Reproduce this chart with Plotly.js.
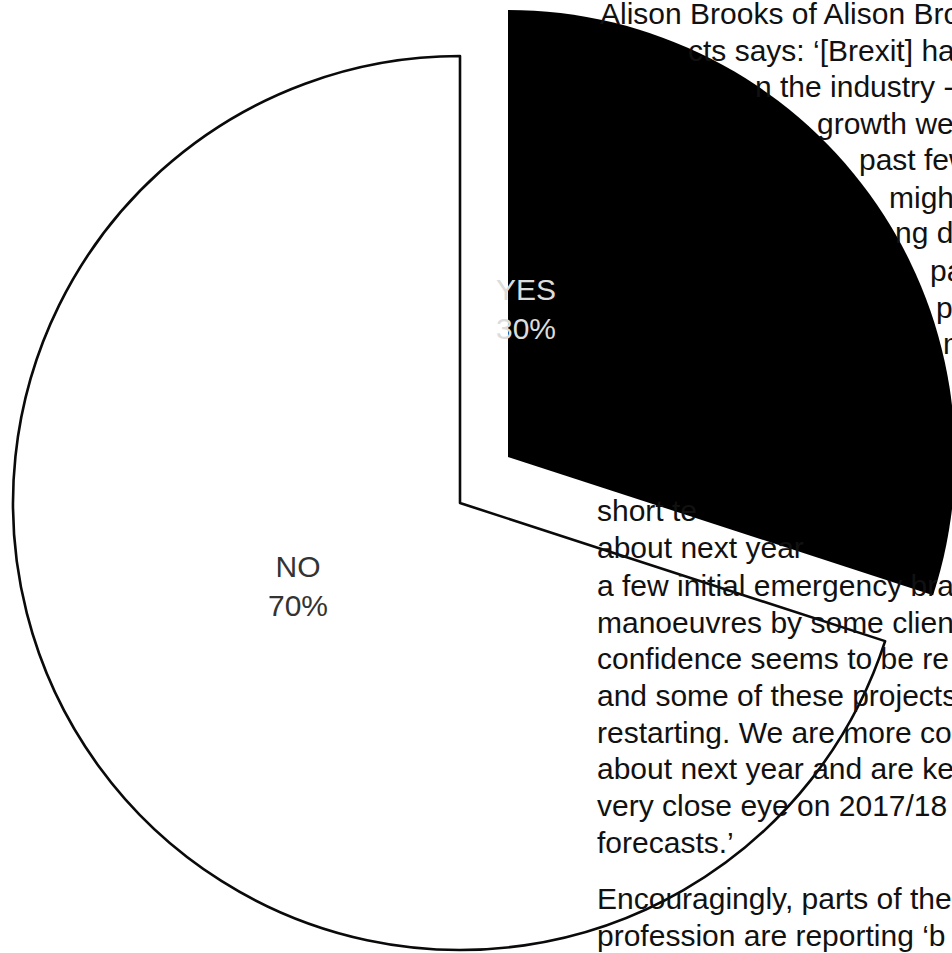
<!DOCTYPE html>
<html>
<head>
<meta charset="utf-8">
<script src="https://cdn.plot.ly/plotly-3.0.1.min.js"></script>
<style>
  html, body { margin: 0; padding: 0; background: #ffffff; overflow: hidden; }
  #chart { width: 960px; height: 960px; }
</style>
</head>
<body>
<div id="chart"></div>
<script>
// ---- data ----
const categories = ['YES', 'NO'];
const values = [30, 70];
const percentLabels = ['30%', '70%'];

// article text visible around the chart (fragments as they appear)
const articleLines = [
  'Alison Brooks of Alison Bro',
  'cts says: \u2018[Brexit] ha',
  'n the industry -',
  'growth we\u2019',
  'past few',
  'migh',
  'ng d',
  'pa',
  'pe',
  'm',
  'short te',
  'about next year',
  'a few initial emergency bra',
  'manoeuvres by some clien',
  'confidence seems to be re',
  'and some of these projects',
  'restarting. We are more co',
  'about next year and are ke',
  'very close eye on 2017/18',
  'forecasts.\u2019',
  'Encouragingly, parts of the',
  'profession are reporting \u2018b'
];

// ---- layout (pixel geometry of the page) ----
const W = 960, H = 960;
const R = 447;                    // pie radius in px
const noCenter = [460, 503];      // centre of the white (NO) slice
const yesCenter = [508, 457];     // centre of the pulled-out black (YES) slice
const textX = [598, 686, 753, 815, 857, 887, 893, 928, 934, 941,
               595, 595, 595, 595, 595, 595, 595, 595, 595, 595, 595, 595];
const textBase = [23, 60, 97, 133, 170, 207, 243, 280, 317, 353,
                  520, 557, 595, 632, 668, 705, 742, 778, 815, 852, 908, 945];
const labelPos = [[526, 309], [298, 586]];

function domainFor(c) {
  return {
    x: [(c[0] - R) / W, (c[0] + R) / W],
    y: [1 - (c[1] + R) / H, 1 - (c[1] - R) / H]
  };
}

const clear = 'rgba(0,0,0,0)';
const traceNo = {
  type: 'pie',
  labels: categories,
  values: values,
  sort: false,
  direction: 'clockwise',
  rotation: 0,
  domain: domainFor(noCenter),
  marker: {
    colors: [clear, '#ffffff'],
    line: { color: [clear, '#0a0a0a'], width: [0, 2.6] }
  },
  textinfo: 'none',
  hoverinfo: 'none',
  showlegend: false
};
const traceYes = {
  type: 'pie',
  labels: categories,
  values: values,
  sort: false,
  direction: 'clockwise',
  rotation: 0,
  domain: domainFor(yesCenter),
  marker: {
    colors: ['#000000', clear],
    line: { color: ['#000000', clear], width: [0, 0] }
  },
  textinfo: 'none',
  hoverinfo: 'none',
  showlegend: false
};

const annotations = [];
articleLines.forEach(function (t, i) {
  annotations.push({
    xref: 'paper', yref: 'paper',
    x: textX[i] / W, y: 1 - (textBase[i] - 10) / H,
    xanchor: 'left', yanchor: 'middle',
    text: t, showarrow: false,
    font: { family: 'Liberation Sans, Arial, sans-serif', size: 30, color: '#111111' }
  });
});
const labelColors = ['#dcdcdc', '#333333'];
categories.forEach(function (c, i) {
  annotations.push({
    xref: 'paper', yref: 'paper',
    x: labelPos[i][0] / W, y: 1 - labelPos[i][1] / H,
    xanchor: 'center', yanchor: 'middle',
    text: c + '<br>' + percentLabels[i], showarrow: false,
    font: { family: 'Liberation Sans, Arial, sans-serif', size: 30, color: labelColors[i] }
  });
});

const layout = {
  width: W, height: H,
  margin: { l: 0, r: 0, t: 0, b: 0 },
  paper_bgcolor: '#ffffff',
  plot_bgcolor: '#ffffff',
  showlegend: false,
  annotations: annotations
};

Plotly.newPlot('chart', [traceNo, traceYes], layout, { displayModeBar: false, staticPlot: true });
</script>
</body>
</html>
